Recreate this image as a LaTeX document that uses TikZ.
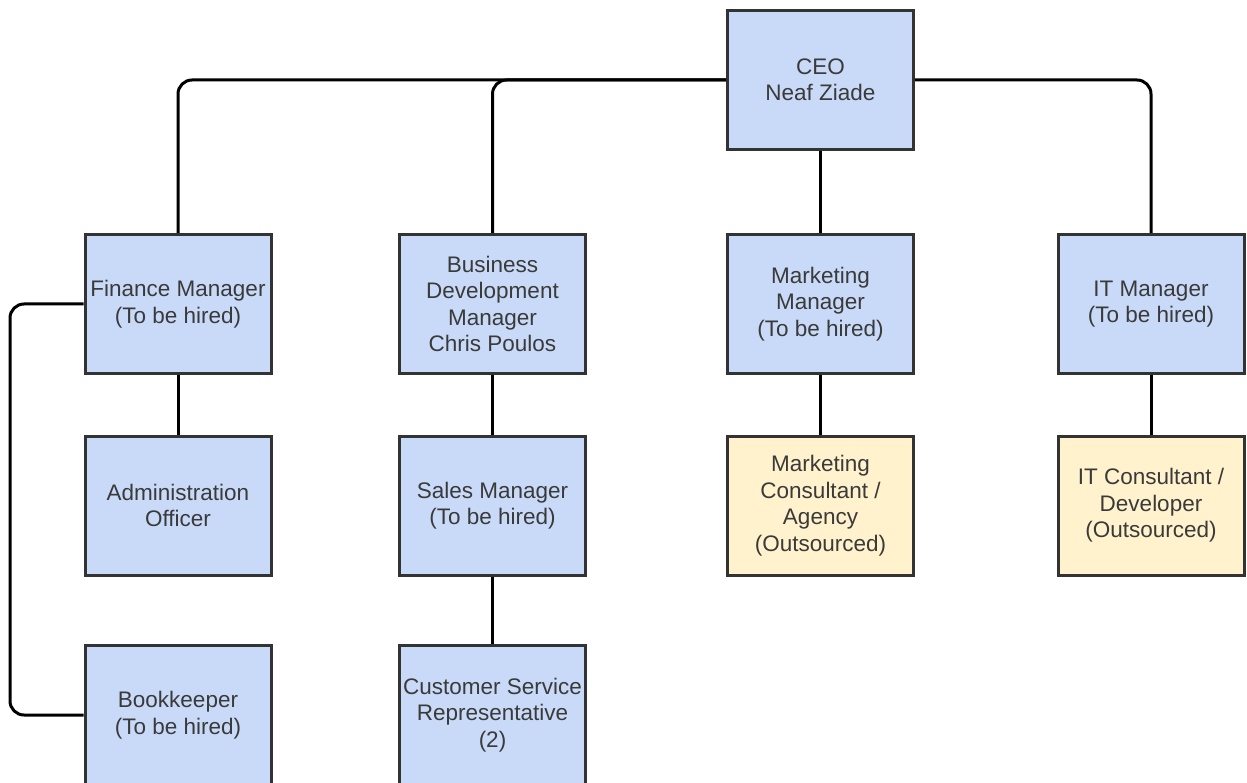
\documentclass[tikz,border=0pt]{standalone}
\usepackage{fontspec}
\setmainfont{Liberation Sans}
\definecolor{boxblue}{HTML}{C9DAF8}
\definecolor{boxyellow}{HTML}{FFF2CC}
\definecolor{boxline}{HTML}{333333}
\definecolor{boxtext}{HTML}{3A3A3A}
\begin{document}
\begin{tikzpicture}[x=1pt,y=-1pt,
  box/.style={draw=boxline, line width=3pt, fill=boxblue, minimum width=186pt,
    minimum height=139pt, inner sep=2pt, align=center, text=boxtext,
    font=\fontsize{22.5}{26.5}\selectfont},
  ext/.style={box, fill=boxyellow},
  link/.style={line width=3pt, black, rounded corners=14pt}]
\useasboundingbox (0,0) rectangle (1247,783);
\node[box] (ceo)   at (820.5,80)    {CEO\\Neaf Ziade};
\node[box] (fin)   at (178,304)     {Finance Manager\\(To be hired)};
\node[box] (bd)    at (492.5,304)   {Business\\Development\\Manager\\Chris Poulos};
\node[box] (mkt)   at (820.5,304)   {Marketing\\Manager\\(To be hired)};
\node[box] (it)    at (1151,304)    {IT Manager\\(To be hired)};
\node[box] (adm)   at (178,505.5)   {Administration\\Officer};
\node[box] (sales) at (492.5,505.5) {Sales Manager\\(To be hired)};
\node[ext] (mc)    at (820.5,505.5) {Marketing\\Consultant /\\Agency\\(Outsourced)};
\node[ext] (itc)   at (1151,505.5)  {IT Consultant /\\Developer\\(Outsourced)};
\node[box] (bk)    at (178,715)     {Bookkeeper\\(To be hired)};
\node[box] (csr)   at (492.5,715)   {Customer Service\\Representative\\(2)};
\coordinate (lft) at (10,304);
\draw[link] (ceo.west) -| (fin.north);
\draw[link] (ceo.west) -| (bd.north);
\draw[link] (ceo.east) -| (it.north);
\draw[link] (ceo.south) -- (mkt.north);
\draw[link] (fin.south) -- (adm.north);
\draw[link] (bd.south) -- (sales.north);
\draw[link] (sales.south) -- (csr.north);
\draw[link] (mkt.south) -- (mc.north);
\draw[link] (it.south) -- (itc.north);
\draw[link] (fin.west) -- (lft) |- (bk.west);
\end{tikzpicture}
\end{document}
